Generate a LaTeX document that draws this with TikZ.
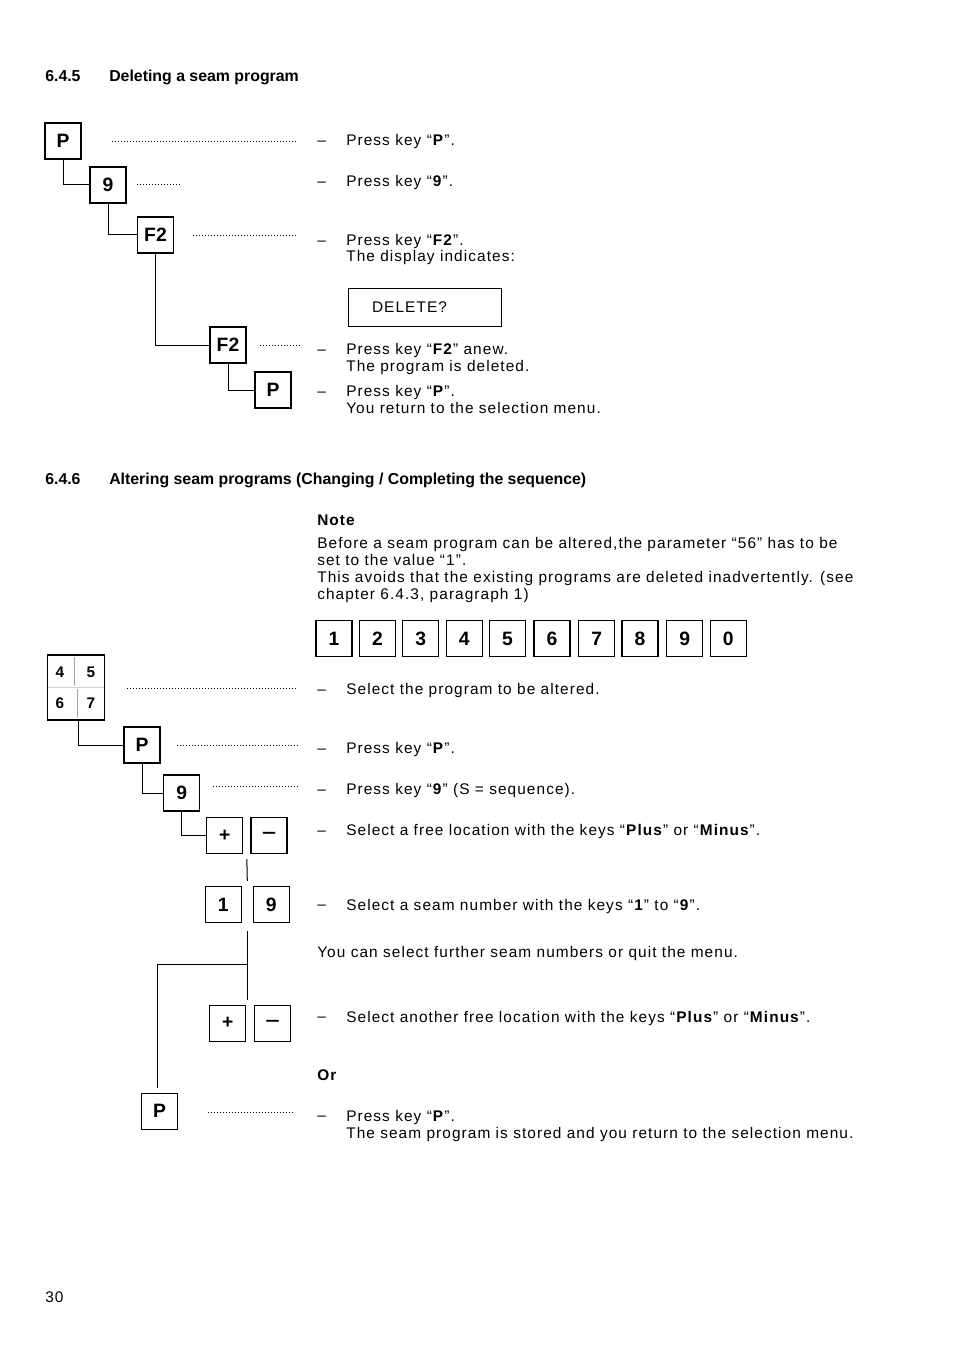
\documentclass[tikz,border=0pt]{standalone}
\usepackage{fontspec}
\setmainfont{Liberation Sans}
\newfontfamily\bodyfont{Liberation Sans}[LetterSpace=7]
\usetikzlibrary{calc}
\begin{document}
\begin{tikzpicture}[x=0.75pt,y=-0.75pt,
  key/.style={draw, line width=0.9pt, minimum size=27pt, inner sep=0pt, font=\fontsize{14.5}{15}\selectfont\bfseries},
  smalldigit/.style={inner sep=0pt, font=\fontsize{11.5}{12}\selectfont\bfseries},
  conn/.style={draw, line width=0.75pt},
  leader/.style={draw, line width=0.6pt, dash pattern=on 0.6pt off 1.65pt},
  txt/.style={anchor=base west, inner sep=0pt, font=\bodyfont\fontsize{11.55}{13}\selectfont},
  head/.style={anchor=base west, inner sep=0pt, font=\fontsize{11.9}{13}\selectfont\bfseries}]
\useasboundingbox (0,0) rectangle (954,1348);

% ---------- 6.4.5 ----------
\node[head] (h1n) at (45,82) {6.4.5};
\node[head] (h1t) at (109,82) {Deleting a seam program};

\node[key] (aP1) at (63,141) {P};
\node[key] (a9) at (108,185) {9};
\node[key] (aF2a) at (155.5,235) {F2};
\node[key] (aF2b) at (228,345) {F2};
\node[key] (aP2) at (273,390) {P};

\draw[conn] (aP1.south) |- (a9.west);
\draw[conn] (a9.south) |- (aF2a.west);
\draw[conn] (aF2a.south) |- (aF2b.west);
\draw[conn] (aF2b.south) |- (aP2.west);

\coordinate (la1) at (112,141); \coordinate (lb1) at (298,141);
\coordinate (la2) at (137,184); \coordinate (lb2) at (180,184);
\coordinate (la3) at (193,235); \coordinate (lb3) at (298,235);
\coordinate (la4) at (260,345); \coordinate (lb4) at (301,345);
\draw[leader] (la1) -- (lb1);
\draw[leader] (la2) -- (lb2);
\draw[leader] (la3) -- (lb3);
\draw[leader] (la4) -- (lb4);

\node[txt] (ad1) at (317,146) {–};
\node[txt] (at1) at (346,146) {Press key “\textbf{P}”.};
\node[txt] (ad2) at (317,187) {–};
\node[txt] (at2) at (346,187) {Press key “\textbf{9}”.};
\node[txt] (ad3) at (317,245) {–};
\node[txt] (at3) at (346,245) {Press key “\textbf{F2}”.};
\node[txt] (at3b) at (346,262) {The display indicates:};
\node[draw, line width=0.75pt, minimum height=28.5pt, text width=78.75pt, inner xsep=18pt, align=left, font=\bodyfont\fontsize{11.55}{13}\selectfont] (disp) at (424.5,307) {DELETE?};
\node[txt] (ad4) at (317,354) {–};
\node[txt] (at4) at (346,354) {Press key “\textbf{F2}” anew.};
\node[txt] (at4b) at (346,371) {The program is deleted.};
\node[txt] (ad5) at (317,396) {–};
\node[txt] (at5) at (346,396) {Press key “\textbf{P}”.};
\node[txt] (at5b) at (346,413) {You return to the selection menu.};

% ---------- 6.4.6 ----------
\node[head] (h2n) at (45,484) {6.4.6};
\node[head] (h2t) at (109,484) {Altering seam programs (Changing / Completing the sequence)};

\node[txt, font=\bodyfont\fontsize{11.55}{13}\selectfont\bfseries] (note) at (317,525) {Note};
\node[txt] (n1) at (317,548) {Before a seam program can be altered,the parameter “56” has to be};
\node[txt] (n2) at (317,565) {set to the value “1”.};
\node[txt] (n3) at (317,582) {This avoids that the existing programs are deleted inadvertently. (see};
\node[txt] (n4) at (317,599) {chapter 6.4.3, paragraph 1)};

\node[key] (r1) at (334,638.5) {1};
\node[key] (r2) at (377.5,638.5) {2};
\node[key] (r3) at (420.7,638.5) {3};
\node[key] (r4) at (464.3,638.5) {4};
\node[key] (r5) at (507.5,638.5) {5};
\node[key] (r6) at (552,638.5) {6};
\node[key] (r7) at (596.8,638.5) {7};
\node[key] (r8) at (640,638.5) {8};
\node[key] (r9) at (684.7,638.5) {9};
\node[key] (r0) at (728.3,638.5) {0};

% 4/5/6/7 composite key
\node[draw, line width=0.9pt, minimum width=42.75pt, minimum height=48.75pt, inner sep=0pt] (k4567) at (75.8,687.5) {};
\draw[gray!70, line width=0.5pt] (74.5,657) -- (74.5,686);
\draw[gray!70, line width=0.5pt] (77.5,689) -- (77.5,718);
\draw[gray!35, line width=0.4pt] (48,687) -- (104,687);
\node[smalldigit] (d4) at (60,672) {4};
\node[smalldigit] (d5) at (91,672) {5};
\node[smalldigit] (d6) at (60,703) {6};
\node[smalldigit] (d7) at (91,703) {7};

\node[key] (bP1) at (142,745) {P};
\node[key] (b9) at (181.7,793) {9};
\node[key] (bplus1) at (224.7,835.5) {+};
\node[key] (bminus1) at (269,835.5) {\raisebox{0.5pt}{\scalebox{1.3}[1]{–}}};
\node[key] (bone) at (223.3,904.5) {1};
\node[key] (bnine) at (271.3,904.5) {9};
\node[key] (bplus2) at (227.7,1023.3) {+};
\node[key] (bminus2) at (272.5,1023.8) {\raisebox{0.5pt}{\scalebox{1.3}[1]{–}}};
\node[key] (bP2) at (159.5,1111.3) {P};

\draw[conn] ([xshift=2.2pt]k4567.south) |- (bP1.west);
\draw[conn] (bP1.south) |- (b9.west);
\draw[conn] (b9.south) |- (bplus1.west);

\coordinate (m1) at ($(bplus1.south east)!0.5!(bminus1.south west)$);
\coordinate (m2) at ($(bone.north east)!0.5!(bnine.north west)$);
\draw[conn] ($(m1)+(0,5)$) -- ($(m2)+(0,-5)$);
\coordinate (m3) at ($(bone.south east)!0.5!(bnine.south west)$);
\coordinate (m4) at ($(m3)+(0,77)$);
\draw[conn] ($(m3)+(0,8)$) -- (m4);
\coordinate (br) at ($(m3)+(0,41)$);
\draw[conn] (br) -| ([xshift=-1.6pt,yshift=3.75pt]bP2.north);

\coordinate (lc1) at (127,688); \coordinate (ld1) at (298,688);
\coordinate (lc2) at (177,745); \coordinate (ld2) at (298,745);
\coordinate (lc3) at (213,786); \coordinate (ld3) at (298,786);
\coordinate (lc4) at (207.7,1112); \coordinate (ld4) at (292.3,1112);
\draw[leader] (lc1) -- (ld1);
\draw[leader] (lc2) -- (ld2);
\draw[leader] (lc3) -- (ld3);
\draw[leader] (lc4) -- (ld4);

\node[txt] (bd1) at (317,694) {–};
\node[txt] (bt1) at (346,694) {Select the program to be altered.};
\node[txt] (bd2) at (317,753) {–};
\node[txt] (bt2) at (346,753) {Press key “\textbf{P}”.};
\node[txt] (bd3) at (317,794) {–};
\node[txt] (bt3) at (346,794) {Press key “\textbf{9}” (S = sequence).};
\node[txt] (bd4) at (317,835) {–};
\node[txt] (bt4) at (346,835) {Select a free location with the keys “\textbf{Plus}” or “\textbf{Minus}”.};
\node[txt] (bd5) at (317,909) {–};
\node[txt] (bt5) at (346,910) {Select a seam number with the keys “\textbf{1}” to “\textbf{9}”.};
\node[txt] (bt6) at (317,957) {You can select further seam numbers or quit the menu.};
\node[txt] (bd7) at (317,1021) {–};
\node[txt] (bt7) at (346,1022) {Select another free location with the keys “\textbf{Plus}” or “\textbf{Minus}”.};
\node[txt, font=\bodyfont\fontsize{11.55}{13}\selectfont\bfseries] (bor) at (317,1080) {Or};
\node[txt] (bd8) at (317,1120) {–};
\node[txt] (bt8) at (346,1121) {Press key “\textbf{P}”.};
\node[txt] (bt8b) at (346,1138) {The seam program is stored and you return to the selection menu.};

\node[txt] (pg) at (45,1302) {30};
\end{tikzpicture}
\end{document}
